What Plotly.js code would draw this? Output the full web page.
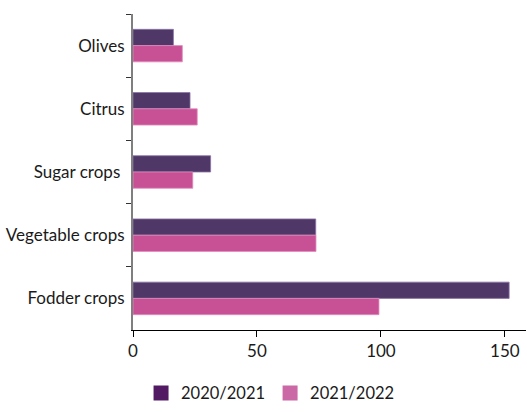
<!DOCTYPE html>
<html>
<head>
<meta charset="utf-8">
<script src="https://cdn.plot.ly/plotly-3.0.1.min.js"></script>
<style>
  html, body { margin: 0; padding: 0; background: #ffffff; }
  #chart { width: 527px; height: 412px; }
</style>
</head>
<body>
<div id="chart"></div>
<script>
// Crop categories, top to bottom
const categories = ["Olives", "Citrus", "Sugar crops\u00a0", "Vegetable crops", "Fodder crops"];
// Series
const seasons = ["2020/2021", "2021/2022"];
const values2020 = [16.3, 23.0, 31.3, 73.7, 151.7];
const values2021 = [19.9, 25.9, 24.1, 73.8, 99.2];
const xTicks = [0, 50, 100, 150];

const FONT = "Lato, 'Liberation Sans', sans-serif";
const barFill = ["#4f3867", "#c85196"];
const barEdge = ["#8c74a6", "#e08dbd"];
const keyFill = ["#531a64", "#cb68a6"];

const bars = [values2020, values2021].map((vals, i) => ({
  type: "bar",
  orientation: "h",
  name: seasons[i],
  x: vals,
  y: categories,
  marker: { color: barFill[i], line: { color: barEdge[i], width: 0.8 } },
  showlegend: false,
  hoverinfo: "x+y"
}));

// Legend keys (square swatches in the more saturated colours)
const keys = seasons.map((s, i) => ({
  type: "scatter",
  mode: "markers",
  name: s,
  x: [null],
  y: [null],
  marker: { color: keyFill[i], symbol: "square", size: 15 },
  showlegend: true,
  hoverinfo: "skip"
}));

const layout = {
  width: 527,
  height: 412,
  margin: { l: 133, r: 1, t: 14, b: 75 },
  paper_bgcolor: "#ffffff",
  plot_bgcolor: "#ffffff",
  font: { family: FONT, size: 16, color: "#1a1a1a" },
  barmode: "group",
  bargap: 0.485,
  bargroupgap: 0,
  xaxis: {
    range: [0, 158.5],
    tickvals: xTicks,
    ticktext: xTicks.map(String),
    showgrid: false,
    zeroline: false,
    showline: true,
    linecolor: "#000000",
    linewidth: 1,
    ticks: "outside",
    ticklen: 6,
    tickcolor: "#000000",
    tickfont: { family: FONT, size: 17, color: "#1a1a1a" },
    fixedrange: true
  },
  yaxis: {
    type: "category",
    autorange: "reversed",
    showgrid: false,
    zeroline: false,
    showline: true,
    linecolor: "#7f7f7f",
    linewidth: 2,
    ticks: "outside",
    tickson: "boundaries",
    ticklen: 5,
    tickcolor: "#333333",
    ticklabelstandoff: 3,
    tickfont: { family: FONT, size: 17, color: "#1a1a1a" },
    fixedrange: true
  },
  legend: {
    orientation: "h",
    x: 0.35,
    xanchor: "center",
    y: -0.2,
    yanchor: "middle",
    font: { family: FONT, size: 16.5, color: "#1a1a1a" },
    itemwidth: 30,
    traceorder: "normal"
  },
  showlegend: true
};

Plotly.newPlot("chart", bars.concat(keys), layout, { displayModeBar: false, staticPlot: true });
</script>
</body>
</html>
